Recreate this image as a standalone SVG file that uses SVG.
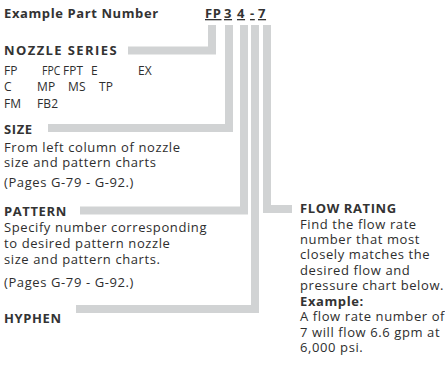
<svg xmlns="http://www.w3.org/2000/svg" width="445" height="380" viewBox="0 0 445 380">
<style>
text{font-family:"Open Sans","Noto Sans",sans-serif;font-size:13px;letter-spacing:0.6px;fill:#2e2e2e}
.b{font-weight:bold;fill:#333}
.cap{letter-spacing:1.4px}
.s{font-size:12px;letter-spacing:0.1px}
.u{text-decoration:underline}
.bar{fill:none;stroke:#d1d3d4;stroke-width:8;stroke-linejoin:miter;stroke-linecap:butt}
</style>
<rect width="445" height="380" fill="#fff"/>
<g id="connectors">
<path class="bar" d="M128 50.5H212V25"/>
<path class="bar" d="M48 128H229V25"/>
<path class="bar" d="M80 210.5H244V25"/>
<path class="bar" d="M76 309H255V25"/>
<path class="bar" d="M292 209H267V25"/>
</g>
<g id="header">
<text class="b" x="4" y="18">Example Part Number</text>
<text class="b u" x="205" y="18">FP</text>
<text class="b u" x="224" y="18">3</text>
<text class="b u" x="237" y="18">4</text>
<text class="b u" x="250" y="18">-</text>
<text class="b u" x="258" y="18">7</text>
</g>
<g id="nozzle-series">
<text class="b cap" x="4" y="55">NOZZLE SERIES</text>
<text class="s" x="4" y="75">FP</text><text class="s" x="42" y="75" textLength="18.5" lengthAdjust="spacingAndGlyphs">FPC</text><text class="s" x="63" y="75" textLength="20" lengthAdjust="spacingAndGlyphs">FPT</text><text class="s" x="91" y="75">E</text><text class="s" x="138" y="75">EX</text>
<text class="s" x="4" y="91">C</text><text class="s" x="37" y="91">MP</text><text class="s" x="68" y="91">MS</text><text class="s" x="99" y="91">TP</text>
<text class="s" x="4" y="108">FM</text><text class="s" x="37" y="108">FB2</text>
</g>
<g id="size">
<text class="b" x="4" y="134">SIZE</text>
<text x="4" y="152">From left column of nozzle</text>
<text x="4" y="167">size and pattern charts</text>
<text x="4" y="187">(Pages G-79 - G-92.)</text>
</g>
<g id="pattern">
<text class="b" x="4" y="216">PATTERN</text>
<text x="4" y="232">Specify number corresponding</text>
<text x="4" y="248">to desired pattern nozzle</text>
<text x="4" y="264">size and pattern charts.</text>
<text x="4" y="287">(Pages G-79 - G-92.)</text>
</g>
<g id="hyphen">
<text class="b" x="4" y="323">HYPHEN</text>
</g>
<g id="flow-rating">
<text class="b" x="300" y="213">FLOW RATING</text>
<text x="300" y="229">Find the flow rate</text>
<text x="300" y="244">number that most</text>
<text x="300" y="259">closely matches the</text>
<text x="300" y="275">desired flow and</text>
<text x="300" y="290">pressure chart below.</text>
<text class="b" x="300" y="306">Example:</text>
<text x="300" y="321">A flow rate number of</text>
<text x="300" y="337">7 will flow 6.6 gpm at</text>
<text x="300" y="352">6,000 psi.</text>
</g>
</svg>
